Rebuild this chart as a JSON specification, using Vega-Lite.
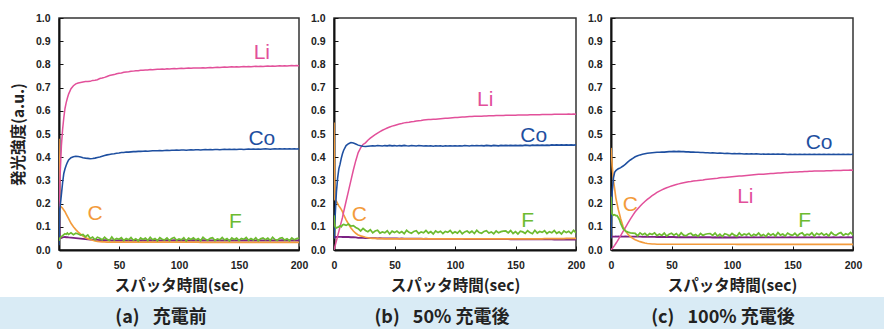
{
"$schema":"https://vega.github.io/schema/vega-lite/v6.json",
"padding":{"left":0,"top":12,"right":0,"bottom":0},
"background":"white",
"config":{
 "view":{"stroke":"#333","strokeWidth":1.5},
 "axis":{"labelFont":"Liberation Sans","labelFontSize":10.5,"labelFontWeight":"bold","labelColor":"#222","titleFont":"Noto Sans CJK JP","titleFontSize":15.5,"titleFontWeight":"bold","titleColor":"#222","grid":false,"domainColor":"#111","domainWidth":2,"tickColor":"#111","tickSize":-4,"labelFlush":false,"labelOverlap":false}
},
"datasets":{
"main":[
{"p":"a","t":0,"Li":0.12,"Co":0.02,"C":0.48,"F":0.04,"X":0.22},
{"p":"a","t":0.5,"Li":0.25,"Co":0.17,"C":0.2,"F":0.05,"X":0.06},
{"p":"a","t":1,"Li":0.33,"Co":0.19,"C":0.19,"F":0.052,"X":0.055},
{"p":"a","t":2,"Li":0.45,"Co":0.24,"C":0.185,"F":0.058,"X":0.052},
{"p":"a","t":3,"Li":0.52,"Co":0.29,"C":0.18,"F":0.062,"X":0.054},
{"p":"a","t":4,"Li":0.57,"Co":0.33,"C":0.172,"F":0.066,"X":0.055},
{"p":"a","t":5,"Li":0.61,"Co":0.35,"C":0.165,"F":0.07,"X":0.056},
{"p":"a","t":6,"Li":0.635,"Co":0.365,"C":0.155,"F":0.068,"X":0.055},
{"p":"a","t":7,"Li":0.655,"Co":0.378,"C":0.145,"F":0.073,"X":0.055},
{"p":"a","t":8,"Li":0.672,"Co":0.388,"C":0.135,"F":0.067,"X":0.054},
{"p":"a","t":10,"Li":0.695,"Co":0.398,"C":0.115,"F":0.074,"X":0.053},
{"p":"a","t":12,"Li":0.708,"Co":0.402,"C":0.1,"F":0.066,"X":0.052},
{"p":"a","t":14,"Li":0.716,"Co":0.404,"C":0.088,"F":0.072,"X":0.051},
{"p":"a","t":16,"Li":0.72,"Co":0.403,"C":0.077,"F":0.069,"X":0.05},
{"p":"a","t":18,"Li":0.722,"Co":0.401,"C":0.068,"F":0.064,"X":0.049},
{"p":"a","t":20,"Li":0.724,"Co":0.398,"C":0.06,"F":0.067,"X":0.048},
{"p":"a","t":22,"Li":0.726,"Co":0.396,"C":0.054,"F":0.057,"X":0.047},
{"p":"a","t":24,"Li":0.726,"Co":0.395,"C":0.049,"F":0.065,"X":0.046},
{"p":"a","t":26,"Li":0.727,"Co":0.393,"C":0.045,"F":0.05,"X":0.045},
{"p":"a","t":28,"Li":0.731,"Co":0.394,"C":0.042,"F":0.056,"X":0.045},
{"p":"a","t":30,"Li":0.732,"Co":0.396,"C":0.039,"F":0.044,"X":0.044},
{"p":"a","t":32,"Li":0.734,"Co":0.399,"C":0.037,"F":0.055,"X":0.044},
{"p":"a","t":34,"Li":0.739,"Co":0.401,"C":0.036,"F":0.051,"X":0.043},
{"p":"a","t":36,"Li":0.741,"Co":0.404,"C":0.035,"F":0.044,"X":0.043},
{"p":"a","t":38,"Li":0.744,"Co":0.407,"C":0.035,"F":0.055,"X":0.042},
{"p":"a","t":40,"Li":0.748,"Co":0.41,"C":0.034,"F":0.046,"X":0.042},
{"p":"a","t":42,"Li":0.752,"Co":0.412,"C":0.034,"F":0.041,"X":0.042},
{"p":"a","t":44,"Li":0.754,"Co":0.414,"C":0.034,"F":0.056,"X":0.041},
{"p":"a","t":46,"Li":0.756,"Co":0.415,"C":0.034,"F":0.043,"X":0.042},
{"p":"a","t":48,"Li":0.76,"Co":0.417,"C":0.034,"F":0.05,"X":0.041},
{"p":"a","t":50,"Li":0.762,"Co":0.418,"C":0.034,"F":0.046,"X":0.041},
{"p":"a","t":52,"Li":0.763,"Co":0.42,"C":0.034,"F":0.053,"X":0.042},
{"p":"a","t":54,"Li":0.766,"Co":0.42,"C":0.034,"F":0.041,"X":0.041},
{"p":"a","t":56,"Li":0.767,"Co":0.422,"C":0.034,"F":0.049,"X":0.041},
{"p":"a","t":58,"Li":0.768,"Co":0.422,"C":0.034,"F":0.044,"X":0.042},
{"p":"a","t":60,"Li":0.77,"Co":0.423,"C":0.034,"F":0.054,"X":0.041},
{"p":"a","t":62,"Li":0.771,"Co":0.424,"C":0.034,"F":0.042,"X":0.041},
{"p":"a","t":64,"Li":0.773,"Co":0.424,"C":0.034,"F":0.048,"X":0.042},
{"p":"a","t":66,"Li":0.773,"Co":0.425,"C":0.034,"F":0.039,"X":0.041},
{"p":"a","t":68,"Li":0.775,"Co":0.425,"C":0.034,"F":0.052,"X":0.041},
{"p":"a","t":70,"Li":0.775,"Co":0.426,"C":0.034,"F":0.045,"X":0.042},
{"p":"a","t":72,"Li":0.776,"Co":0.427,"C":0.034,"F":0.051,"X":0.041},
{"p":"a","t":74,"Li":0.776,"Co":0.426,"C":0.034,"F":0.041,"X":0.041},
{"p":"a","t":76,"Li":0.778,"Co":0.427,"C":0.034,"F":0.055,"X":0.042},
{"p":"a","t":78,"Li":0.777,"Co":0.428,"C":0.034,"F":0.044,"X":0.041},
{"p":"a","t":80,"Li":0.778,"Co":0.428,"C":0.034,"F":0.049,"X":0.041},
{"p":"a","t":82,"Li":0.779,"Co":0.428,"C":0.034,"F":0.04,"X":0.042},
{"p":"a","t":84,"Li":0.779,"Co":0.429,"C":0.034,"F":0.053,"X":0.041},
{"p":"a","t":86,"Li":0.78,"Co":0.428,"C":0.034,"F":0.046,"X":0.041},
{"p":"a","t":88,"Li":0.779,"Co":0.429,"C":0.034,"F":0.043,"X":0.041},
{"p":"a","t":90,"Li":0.781,"Co":0.43,"C":0.034,"F":0.052,"X":0.042},
{"p":"a","t":92,"Li":0.78,"Co":0.429,"C":0.034,"F":0.041,"X":0.041},
{"p":"a","t":94,"Li":0.781,"Co":0.43,"C":0.034,"F":0.05,"X":0.041},
{"p":"a","t":96,"Li":0.782,"Co":0.43,"C":0.034,"F":0.054,"X":0.042},
{"p":"a","t":98,"Li":0.781,"Co":0.431,"C":0.034,"F":0.042,"X":0.041},
{"p":"a","t":100,"Li":0.782,"Co":0.43,"C":0.034,"F":0.048,"X":0.041},
{"p":"a","t":102,"Li":0.783,"Co":0.431,"C":0.034,"F":0.044,"X":0.041},
{"p":"a","t":104,"Li":0.782,"Co":0.431,"C":0.034,"F":0.053,"X":0.042},
{"p":"a","t":106,"Li":0.783,"Co":0.43,"C":0.034,"F":0.039,"X":0.041},
{"p":"a","t":108,"Li":0.784,"Co":0.431,"C":0.034,"F":0.051,"X":0.041},
{"p":"a","t":110,"Li":0.783,"Co":0.432,"C":0.034,"F":0.045,"X":0.041},
{"p":"a","t":112,"Li":0.784,"Co":0.431,"C":0.034,"F":0.052,"X":0.042},
{"p":"a","t":114,"Li":0.785,"Co":0.432,"C":0.034,"F":0.043,"X":0.041},
{"p":"a","t":116,"Li":0.784,"Co":0.432,"C":0.034,"F":0.049,"X":0.041},
{"p":"a","t":118,"Li":0.785,"Co":0.431,"C":0.033,"F":0.04,"X":0.041},
{"p":"a","t":120,"Li":0.786,"Co":0.432,"C":0.033,"F":0.055,"X":0.042},
{"p":"a","t":122,"Li":0.785,"Co":0.433,"C":0.033,"F":0.046,"X":0.041},
{"p":"a","t":124,"Li":0.786,"Co":0.432,"C":0.033,"F":0.042,"X":0.041},
{"p":"a","t":126,"Li":0.787,"Co":0.433,"C":0.033,"F":0.05,"X":0.041},
{"p":"a","t":128,"Li":0.786,"Co":0.432,"C":0.033,"F":0.053,"X":0.041},
{"p":"a","t":130,"Li":0.787,"Co":0.433,"C":0.033,"F":0.041,"X":0.042},
{"p":"a","t":132,"Li":0.788,"Co":0.433,"C":0.033,"F":0.048,"X":0.041},
{"p":"a","t":134,"Li":0.787,"Co":0.432,"C":0.033,"F":0.044,"X":0.041},
{"p":"a","t":136,"Li":0.788,"Co":0.433,"C":0.033,"F":0.054,"X":0.041},
{"p":"a","t":138,"Li":0.789,"Co":0.434,"C":0.033,"F":0.043,"X":0.042},
{"p":"a","t":140,"Li":0.788,"Co":0.433,"C":0.033,"F":0.049,"X":0.041},
{"p":"a","t":142,"Li":0.789,"Co":0.434,"C":0.033,"F":0.039,"X":0.041},
{"p":"a","t":144,"Li":0.79,"Co":0.433,"C":0.033,"F":0.052,"X":0.041},
{"p":"a","t":146,"Li":0.789,"Co":0.434,"C":0.033,"F":0.045,"X":0.042},
{"p":"a","t":148,"Li":0.79,"Co":0.433,"C":0.033,"F":0.051,"X":0.041},
{"p":"a","t":150,"Li":0.789,"Co":0.434,"C":0.033,"F":0.041,"X":0.041},
{"p":"a","t":152,"Li":0.79,"Co":0.434,"C":0.033,"F":0.05,"X":0.041},
{"p":"a","t":154,"Li":0.791,"Co":0.433,"C":0.033,"F":0.046,"X":0.041},
{"p":"a","t":156,"Li":0.79,"Co":0.434,"C":0.033,"F":0.054,"X":0.042},
{"p":"a","t":158,"Li":0.791,"Co":0.435,"C":0.033,"F":0.042,"X":0.041},
{"p":"a","t":160,"Li":0.79,"Co":0.434,"C":0.033,"F":0.049,"X":0.041},
{"p":"a","t":162,"Li":0.791,"Co":0.435,"C":0.033,"F":0.043,"X":0.041},
{"p":"a","t":164,"Li":0.792,"Co":0.434,"C":0.033,"F":0.053,"X":0.041},
{"p":"a","t":166,"Li":0.791,"Co":0.435,"C":0.033,"F":0.04,"X":0.042},
{"p":"a","t":168,"Li":0.792,"Co":0.434,"C":0.033,"F":0.048,"X":0.041},
{"p":"a","t":170,"Li":0.791,"Co":0.435,"C":0.033,"F":0.052,"X":0.041},
{"p":"a","t":172,"Li":0.792,"Co":0.436,"C":0.033,"F":0.044,"X":0.041},
{"p":"a","t":174,"Li":0.793,"Co":0.435,"C":0.033,"F":0.051,"X":0.041},
{"p":"a","t":176,"Li":0.792,"Co":0.434,"C":0.033,"F":0.041,"X":0.042},
{"p":"a","t":178,"Li":0.793,"Co":0.435,"C":0.033,"F":0.055,"X":0.041},
{"p":"a","t":180,"Li":0.792,"Co":0.436,"C":0.033,"F":0.045,"X":0.041},
{"p":"a","t":182,"Li":0.793,"Co":0.435,"C":0.033,"F":0.042,"X":0.041},
{"p":"a","t":184,"Li":0.794,"Co":0.436,"C":0.033,"F":0.05,"X":0.041},
{"p":"a","t":186,"Li":0.793,"Co":0.435,"C":0.033,"F":0.053,"X":0.042},
{"p":"a","t":188,"Li":0.794,"Co":0.436,"C":0.033,"F":0.043,"X":0.041},
{"p":"a","t":190,"Li":0.793,"Co":0.435,"C":0.033,"F":0.048,"X":0.041},
{"p":"a","t":192,"Li":0.794,"Co":0.436,"C":0.033,"F":0.04,"X":0.041},
{"p":"a","t":194,"Li":0.795,"Co":0.435,"C":0.033,"F":0.052,"X":0.041},
{"p":"a","t":196,"Li":0.794,"Co":0.436,"C":0.033,"F":0.044,"X":0.042},
{"p":"a","t":198,"Li":0.795,"Co":0.435,"C":0.033,"F":0.049,"X":0.041},
{"p":"a","t":200,"Li":0.794,"Co":0.436,"C":0.033,"F":0.051,"X":0.041},
{"p":"b","t":0,"Li":0,"Co":0.05,"C":0.55,"F":0.15,"X":0.05},
{"p":"b","t":0.5,"Li":0.01,"Co":0.1,"C":0.22,"F":0.11,"X":0.055},
{"p":"b","t":1,"Li":0.02,"Co":0.15,"C":0.215,"F":0.1,"X":0.056},
{"p":"b","t":2,"Li":0.04,"Co":0.25,"C":0.21,"F":0.095,"X":0.056},
{"p":"b","t":3,"Li":0.06,"Co":0.31,"C":0.2,"F":0.098,"X":0.057},
{"p":"b","t":4,"Li":0.08,"Co":0.35,"C":0.19,"F":0.1,"X":0.057},
{"p":"b","t":5,"Li":0.1,"Co":0.37,"C":0.183,"F":0.104,"X":0.057},
{"p":"b","t":6,"Li":0.12,"Co":0.395,"C":0.175,"F":0.1,"X":0.057},
{"p":"b","t":7,"Li":0.14,"Co":0.415,"C":0.165,"F":0.108,"X":0.056},
{"p":"b","t":8,"Li":0.165,"Co":0.43,"C":0.152,"F":0.11,"X":0.056},
{"p":"b","t":10,"Li":0.21,"Co":0.45,"C":0.13,"F":0.106,"X":0.056},
{"p":"b","t":12,"Li":0.255,"Co":0.458,"C":0.112,"F":0.112,"X":0.056},
{"p":"b","t":14,"Li":0.3,"Co":0.463,"C":0.095,"F":0.103,"X":0.055},
{"p":"b","t":16,"Li":0.345,"Co":0.461,"C":0.082,"F":0.105,"X":0.055},
{"p":"b","t":18,"Li":0.385,"Co":0.457,"C":0.072,"F":0.097,"X":0.054},
{"p":"b","t":20,"Li":0.42,"Co":0.452,"C":0.065,"F":0.092,"X":0.052},
{"p":"b","t":22,"Li":0.44,"Co":0.449,"C":0.061,"F":0.082,"X":0.052},
{"p":"b","t":24,"Li":0.455,"Co":0.447,"C":0.058,"F":0.093,"X":0.052},
{"p":"b","t":26,"Li":0.462,"Co":0.446,"C":0.055,"F":0.084,"X":0.051},
{"p":"b","t":28,"Li":0.473,"Co":0.447,"C":0.053,"F":0.079,"X":0.051},
{"p":"b","t":30,"Li":0.482,"Co":0.448,"C":0.051,"F":0.087,"X":0.051},
{"p":"b","t":32,"Li":0.49,"Co":0.449,"C":0.05,"F":0.074,"X":0.051},
{"p":"b","t":34,"Li":0.497,"Co":0.448,"C":0.05,"F":0.082,"X":0.051},
{"p":"b","t":36,"Li":0.504,"Co":0.45,"C":0.049,"F":0.085,"X":0.05},
{"p":"b","t":38,"Li":0.51,"Co":0.449,"C":0.049,"F":0.073,"X":0.051},
{"p":"b","t":40,"Li":0.516,"Co":0.448,"C":0.049,"F":0.078,"X":0.05},
{"p":"b","t":42,"Li":0.521,"Co":0.45,"C":0.048,"F":0.074,"X":0.05},
{"p":"b","t":44,"Li":0.526,"Co":0.449,"C":0.048,"F":0.083,"X":0.05},
{"p":"b","t":46,"Li":0.53,"Co":0.451,"C":0.048,"F":0.069,"X":0.05},
{"p":"b","t":48,"Li":0.534,"Co":0.449,"C":0.048,"F":0.081,"X":0.05},
{"p":"b","t":50,"Li":0.537,"Co":0.45,"C":0.048,"F":0.075,"X":0.05},
{"p":"b","t":52,"Li":0.54,"Co":0.448,"C":0.048,"F":0.082,"X":0.05},
{"p":"b","t":54,"Li":0.543,"Co":0.45,"C":0.048,"F":0.073,"X":0.049},
{"p":"b","t":56,"Li":0.545,"Co":0.449,"C":0.048,"F":0.079,"X":0.05},
{"p":"b","t":58,"Li":0.548,"Co":0.451,"C":0.048,"F":0.07,"X":0.049},
{"p":"b","t":60,"Li":0.55,"Co":0.449,"C":0.048,"F":0.085,"X":0.049},
{"p":"b","t":62,"Li":0.551,"Co":0.448,"C":0.048,"F":0.076,"X":0.049},
{"p":"b","t":64,"Li":0.553,"Co":0.45,"C":0.048,"F":0.072,"X":0.049},
{"p":"b","t":66,"Li":0.554,"Co":0.449,"C":0.048,"F":0.08,"X":0.049},
{"p":"b","t":68,"Li":0.556,"Co":0.448,"C":0.048,"F":0.083,"X":0.049},
{"p":"b","t":70,"Li":0.557,"Co":0.45,"C":0.048,"F":0.071,"X":0.049},
{"p":"b","t":72,"Li":0.558,"Co":0.449,"C":0.048,"F":0.078,"X":0.049},
{"p":"b","t":74,"Li":0.56,"Co":0.448,"C":0.048,"F":0.074,"X":0.048},
{"p":"b","t":76,"Li":0.561,"Co":0.449,"C":0.048,"F":0.084,"X":0.049},
{"p":"b","t":78,"Li":0.562,"Co":0.448,"C":0.048,"F":0.073,"X":0.048},
{"p":"b","t":80,"Li":0.563,"Co":0.449,"C":0.048,"F":0.079,"X":0.048},
{"p":"b","t":82,"Li":0.564,"Co":0.447,"C":0.048,"F":0.069,"X":0.048},
{"p":"b","t":84,"Li":0.564,"Co":0.449,"C":0.048,"F":0.082,"X":0.048},
{"p":"b","t":86,"Li":0.565,"Co":0.448,"C":0.048,"F":0.075,"X":0.048},
{"p":"b","t":88,"Li":0.566,"Co":0.449,"C":0.048,"F":0.081,"X":0.048},
{"p":"b","t":90,"Li":0.567,"Co":0.447,"C":0.048,"F":0.071,"X":0.048},
{"p":"b","t":92,"Li":0.568,"Co":0.449,"C":0.048,"F":0.08,"X":0.048},
{"p":"b","t":94,"Li":0.568,"Co":0.448,"C":0.048,"F":0.076,"X":0.048},
{"p":"b","t":96,"Li":0.569,"Co":0.449,"C":0.048,"F":0.084,"X":0.048},
{"p":"b","t":98,"Li":0.57,"Co":0.448,"C":0.048,"F":0.072,"X":0.048},
{"p":"b","t":100,"Li":0.571,"Co":0.449,"C":0.048,"F":0.079,"X":0.048},
{"p":"b","t":102,"Li":0.571,"Co":0.448,"C":0.048,"F":0.073,"X":0.048},
{"p":"b","t":104,"Li":0.572,"Co":0.449,"C":0.048,"F":0.083,"X":0.048},
{"p":"b","t":106,"Li":0.573,"Co":0.448,"C":0.048,"F":0.07,"X":0.048},
{"p":"b","t":108,"Li":0.573,"Co":0.45,"C":0.048,"F":0.078,"X":0.047},
{"p":"b","t":110,"Li":0.574,"Co":0.449,"C":0.048,"F":0.082,"X":0.048},
{"p":"b","t":112,"Li":0.575,"Co":0.448,"C":0.048,"F":0.074,"X":0.047},
{"p":"b","t":114,"Li":0.575,"Co":0.45,"C":0.048,"F":0.081,"X":0.048},
{"p":"b","t":116,"Li":0.576,"Co":0.449,"C":0.048,"F":0.071,"X":0.047},
{"p":"b","t":118,"Li":0.576,"Co":0.45,"C":0.048,"F":0.085,"X":0.047},
{"p":"b","t":120,"Li":0.577,"Co":0.449,"C":0.048,"F":0.075,"X":0.047},
{"p":"b","t":122,"Li":0.577,"Co":0.45,"C":0.048,"F":0.072,"X":0.047},
{"p":"b","t":124,"Li":0.578,"Co":0.449,"C":0.048,"F":0.08,"X":0.047},
{"p":"b","t":126,"Li":0.578,"Co":0.451,"C":0.048,"F":0.083,"X":0.047},
{"p":"b","t":128,"Li":0.579,"Co":0.45,"C":0.048,"F":0.073,"X":0.047},
{"p":"b","t":130,"Li":0.579,"Co":0.449,"C":0.048,"F":0.078,"X":0.047},
{"p":"b","t":132,"Li":0.579,"Co":0.451,"C":0.048,"F":0.07,"X":0.047},
{"p":"b","t":134,"Li":0.58,"Co":0.45,"C":0.048,"F":0.082,"X":0.047},
{"p":"b","t":136,"Li":0.58,"Co":0.449,"C":0.048,"F":0.074,"X":0.047},
{"p":"b","t":138,"Li":0.58,"Co":0.451,"C":0.048,"F":0.079,"X":0.047},
{"p":"b","t":140,"Li":0.58,"Co":0.45,"C":0.048,"F":0.081,"X":0.047},
{"p":"b","t":142,"Li":0.581,"Co":0.451,"C":0.048,"F":0.082,"X":0.047},
{"p":"b","t":144,"Li":0.581,"Co":0.45,"C":0.048,"F":0.074,"X":0.047},
{"p":"b","t":146,"Li":0.581,"Co":0.451,"C":0.048,"F":0.084,"X":0.046},
{"p":"b","t":148,"Li":0.581,"Co":0.45,"C":0.048,"F":0.071,"X":0.047},
{"p":"b","t":150,"Li":0.581,"Co":0.451,"C":0.048,"F":0.079,"X":0.046},
{"p":"b","t":152,"Li":0.582,"Co":0.45,"C":0.048,"F":0.069,"X":0.047},
{"p":"b","t":154,"Li":0.582,"Co":0.451,"C":0.048,"F":0.081,"X":0.046},
{"p":"b","t":156,"Li":0.582,"Co":0.45,"C":0.048,"F":0.078,"X":0.046},
{"p":"b","t":158,"Li":0.582,"Co":0.452,"C":0.048,"F":0.072,"X":0.047},
{"p":"b","t":160,"Li":0.582,"Co":0.451,"C":0.048,"F":0.083,"X":0.046},
{"p":"b","t":162,"Li":0.583,"Co":0.45,"C":0.048,"F":0.075,"X":0.046},
{"p":"b","t":164,"Li":0.583,"Co":0.452,"C":0.048,"F":0.07,"X":0.046},
{"p":"b","t":166,"Li":0.583,"Co":0.451,"C":0.048,"F":0.085,"X":0.046},
{"p":"b","t":168,"Li":0.583,"Co":0.452,"C":0.048,"F":0.073,"X":0.046},
{"p":"b","t":170,"Li":0.583,"Co":0.451,"C":0.048,"F":0.08,"X":0.046},
{"p":"b","t":172,"Li":0.584,"Co":0.452,"C":0.048,"F":0.076,"X":0.046},
{"p":"b","t":174,"Li":0.584,"Co":0.451,"C":0.049,"F":0.083,"X":0.046},
{"p":"b","t":176,"Li":0.584,"Co":0.452,"C":0.049,"F":0.071,"X":0.046},
{"p":"b","t":178,"Li":0.584,"Co":0.451,"C":0.049,"F":0.079,"X":0.046},
{"p":"b","t":180,"Li":0.584,"Co":0.453,"C":0.049,"F":0.074,"X":0.046},
{"p":"b","t":182,"Li":0.585,"Co":0.452,"C":0.049,"F":0.084,"X":0.045},
{"p":"b","t":184,"Li":0.585,"Co":0.453,"C":0.049,"F":0.072,"X":0.046},
{"p":"b","t":186,"Li":0.585,"Co":0.452,"C":0.049,"F":0.078,"X":0.045},
{"p":"b","t":188,"Li":0.585,"Co":0.453,"C":0.049,"F":0.069,"X":0.045},
{"p":"b","t":190,"Li":0.585,"Co":0.452,"C":0.049,"F":0.082,"X":0.045},
{"p":"b","t":192,"Li":0.585,"Co":0.453,"C":0.05,"F":0.075,"X":0.045},
{"p":"b","t":194,"Li":0.586,"Co":0.452,"C":0.05,"F":0.081,"X":0.045},
{"p":"b","t":196,"Li":0.585,"Co":0.453,"C":0.05,"F":0.071,"X":0.045},
{"p":"b","t":198,"Li":0.586,"Co":0.452,"C":0.05,"F":0.085,"X":0.045},
{"p":"b","t":200,"Li":0.585,"Co":0.453,"C":0.05,"F":0.074,"X":0.045},
{"p":"c","t":0,"Li":0,"Co":0.05,"C":0.44,"F":0.23,"X":0.055},
{"p":"c","t":0.5,"Li":0.003,"Co":0.18,"C":0.4,"F":0.17,"X":0.057},
{"p":"c","t":1,"Li":0.006,"Co":0.25,"C":0.36,"F":0.155,"X":0.058},
{"p":"c","t":2,"Li":0.013,"Co":0.31,"C":0.3,"F":0.15,"X":0.058},
{"p":"c","t":3,"Li":0.02,"Co":0.335,"C":0.265,"F":0.152,"X":0.058},
{"p":"c","t":4,"Li":0.028,"Co":0.342,"C":0.225,"F":0.148,"X":0.059},
{"p":"c","t":5,"Li":0.036,"Co":0.346,"C":0.2,"F":0.148,"X":0.058},
{"p":"c","t":6,"Li":0.045,"Co":0.35,"C":0.175,"F":0.14,"X":0.059},
{"p":"c","t":7,"Li":0.053,"Co":0.352,"C":0.155,"F":0.13,"X":0.058},
{"p":"c","t":8,"Li":0.062,"Co":0.355,"C":0.135,"F":0.115,"X":0.059},
{"p":"c","t":10,"Li":0.08,"Co":0.362,"C":0.1,"F":0.092,"X":0.058},
{"p":"c","t":12,"Li":0.098,"Co":0.37,"C":0.082,"F":0.082,"X":0.059},
{"p":"c","t":14,"Li":0.116,"Co":0.38,"C":0.068,"F":0.077,"X":0.058},
{"p":"c","t":16,"Li":0.133,"Co":0.388,"C":0.058,"F":0.074,"X":0.058},
{"p":"c","t":18,"Li":0.149,"Co":0.395,"C":0.05,"F":0.073,"X":0.058},
{"p":"c","t":20,"Li":0.165,"Co":0.402,"C":0.044,"F":0.072,"X":0.058},
{"p":"c","t":22,"Li":0.177,"Co":0.406,"C":0.04,"F":0.061,"X":0.058},
{"p":"c","t":24,"Li":0.189,"Co":0.41,"C":0.036,"F":0.074,"X":0.058},
{"p":"c","t":26,"Li":0.199,"Co":0.413,"C":0.033,"F":0.066,"X":0.057},
{"p":"c","t":28,"Li":0.209,"Co":0.415,"C":0.03,"F":0.072,"X":0.058},
{"p":"c","t":30,"Li":0.218,"Co":0.417,"C":0.028,"F":0.062,"X":0.057},
{"p":"c","t":32,"Li":0.226,"Co":0.418,"C":0.027,"F":0.071,"X":0.057},
{"p":"c","t":34,"Li":0.234,"Co":0.419,"C":0.026,"F":0.067,"X":0.057},
{"p":"c","t":36,"Li":0.241,"Co":0.42,"C":0.026,"F":0.074,"X":0.057},
{"p":"c","t":38,"Li":0.248,"Co":0.421,"C":0.025,"F":0.062,"X":0.056},
{"p":"c","t":40,"Li":0.254,"Co":0.421,"C":0.025,"F":0.069,"X":0.056},
{"p":"c","t":42,"Li":0.259,"Co":0.422,"C":0.025,"F":0.063,"X":0.056},
{"p":"c","t":44,"Li":0.264,"Co":0.422,"C":0.025,"F":0.073,"X":0.056},
{"p":"c","t":46,"Li":0.268,"Co":0.423,"C":0.025,"F":0.06,"X":0.056},
{"p":"c","t":48,"Li":0.272,"Co":0.424,"C":0.025,"F":0.068,"X":0.056},
{"p":"c","t":50,"Li":0.276,"Co":0.424,"C":0.025,"F":0.072,"X":0.056},
{"p":"c","t":52,"Li":0.279,"Co":0.425,"C":0.025,"F":0.064,"X":0.056},
{"p":"c","t":54,"Li":0.282,"Co":0.424,"C":0.025,"F":0.071,"X":0.055},
{"p":"c","t":56,"Li":0.285,"Co":0.425,"C":0.025,"F":0.06,"X":0.056},
{"p":"c","t":58,"Li":0.288,"Co":0.424,"C":0.025,"F":0.074,"X":0.055},
{"p":"c","t":60,"Li":0.29,"Co":0.424,"C":0.025,"F":0.064,"X":0.055},
{"p":"c","t":62,"Li":0.292,"Co":0.423,"C":0.025,"F":0.061,"X":0.055},
{"p":"c","t":64,"Li":0.294,"Co":0.423,"C":0.025,"F":0.069,"X":0.055},
{"p":"c","t":66,"Li":0.295,"Co":0.422,"C":0.025,"F":0.072,"X":0.055},
{"p":"c","t":68,"Li":0.297,"Co":0.422,"C":0.025,"F":0.062,"X":0.055},
{"p":"c","t":70,"Li":0.298,"Co":0.421,"C":0.025,"F":0.067,"X":0.055},
{"p":"c","t":72,"Li":0.3,"Co":0.421,"C":0.025,"F":0.059,"X":0.055},
{"p":"c","t":74,"Li":0.301,"Co":0.42,"C":0.025,"F":0.071,"X":0.055},
{"p":"c","t":76,"Li":0.302,"Co":0.42,"C":0.025,"F":0.063,"X":0.055},
{"p":"c","t":78,"Li":0.304,"Co":0.419,"C":0.025,"F":0.068,"X":0.055},
{"p":"c","t":80,"Li":0.305,"Co":0.419,"C":0.025,"F":0.07,"X":0.055},
{"p":"c","t":82,"Li":0.306,"Co":0.418,"C":0.025,"F":0.071,"X":0.055},
{"p":"c","t":84,"Li":0.307,"Co":0.419,"C":0.025,"F":0.063,"X":0.054},
{"p":"c","t":86,"Li":0.308,"Co":0.418,"C":0.025,"F":0.073,"X":0.055},
{"p":"c","t":88,"Li":0.309,"Co":0.417,"C":0.025,"F":0.06,"X":0.054},
{"p":"c","t":90,"Li":0.311,"Co":0.418,"C":0.025,"F":0.068,"X":0.055},
{"p":"c","t":92,"Li":0.312,"Co":0.417,"C":0.025,"F":0.058,"X":0.054},
{"p":"c","t":94,"Li":0.313,"Co":0.416,"C":0.025,"F":0.07,"X":0.055},
{"p":"c","t":96,"Li":0.314,"Co":0.417,"C":0.025,"F":0.067,"X":0.054},
{"p":"c","t":98,"Li":0.315,"Co":0.416,"C":0.025,"F":0.061,"X":0.055},
{"p":"c","t":100,"Li":0.316,"Co":0.415,"C":0.025,"F":0.072,"X":0.054},
{"p":"c","t":102,"Li":0.317,"Co":0.416,"C":0.025,"F":0.064,"X":0.055},
{"p":"c","t":104,"Li":0.318,"Co":0.415,"C":0.024,"F":0.059,"X":0.054},
{"p":"c","t":106,"Li":0.319,"Co":0.416,"C":0.024,"F":0.074,"X":0.055},
{"p":"c","t":108,"Li":0.319,"Co":0.415,"C":0.024,"F":0.062,"X":0.054},
{"p":"c","t":110,"Li":0.32,"Co":0.414,"C":0.024,"F":0.069,"X":0.054},
{"p":"c","t":112,"Li":0.321,"Co":0.415,"C":0.024,"F":0.065,"X":0.055},
{"p":"c","t":114,"Li":0.322,"Co":0.414,"C":0.024,"F":0.072,"X":0.054},
{"p":"c","t":116,"Li":0.323,"Co":0.415,"C":0.024,"F":0.06,"X":0.054},
{"p":"c","t":118,"Li":0.324,"Co":0.414,"C":0.024,"F":0.068,"X":0.055},
{"p":"c","t":120,"Li":0.325,"Co":0.415,"C":0.024,"F":0.063,"X":0.054},
{"p":"c","t":122,"Li":0.326,"Co":0.414,"C":0.024,"F":0.073,"X":0.054},
{"p":"c","t":124,"Li":0.327,"Co":0.413,"C":0.024,"F":0.061,"X":0.055},
{"p":"c","t":126,"Li":0.327,"Co":0.414,"C":0.024,"F":0.067,"X":0.054},
{"p":"c","t":128,"Li":0.328,"Co":0.413,"C":0.024,"F":0.058,"X":0.054},
{"p":"c","t":130,"Li":0.329,"Co":0.414,"C":0.024,"F":0.071,"X":0.055},
{"p":"c","t":132,"Li":0.33,"Co":0.413,"C":0.024,"F":0.064,"X":0.054},
{"p":"c","t":134,"Li":0.33,"Co":0.414,"C":0.024,"F":0.07,"X":0.054},
{"p":"c","t":136,"Li":0.331,"Co":0.413,"C":0.024,"F":0.06,"X":0.055},
{"p":"c","t":138,"Li":0.332,"Co":0.414,"C":0.024,"F":0.075,"X":0.054},
{"p":"c","t":140,"Li":0.332,"Co":0.413,"C":0.024,"F":0.064,"X":0.054},
{"p":"c","t":142,"Li":0.333,"Co":0.414,"C":0.024,"F":0.069,"X":0.055},
{"p":"c","t":144,"Li":0.334,"Co":0.413,"C":0.024,"F":0.06,"X":0.054},
{"p":"c","t":146,"Li":0.334,"Co":0.412,"C":0.024,"F":0.073,"X":0.054},
{"p":"c","t":148,"Li":0.335,"Co":0.413,"C":0.024,"F":0.066,"X":0.055},
{"p":"c","t":150,"Li":0.335,"Co":0.412,"C":0.024,"F":0.063,"X":0.054},
{"p":"c","t":152,"Li":0.336,"Co":0.413,"C":0.024,"F":0.072,"X":0.054},
{"p":"c","t":154,"Li":0.336,"Co":0.412,"C":0.024,"F":0.061,"X":0.055},
{"p":"c","t":156,"Li":0.337,"Co":0.413,"C":0.024,"F":0.07,"X":0.054},
{"p":"c","t":158,"Li":0.337,"Co":0.412,"C":0.024,"F":0.074,"X":0.054},
{"p":"c","t":160,"Li":0.338,"Co":0.413,"C":0.024,"F":0.062,"X":0.055},
{"p":"c","t":162,"Li":0.338,"Co":0.412,"C":0.024,"F":0.068,"X":0.054},
{"p":"c","t":164,"Li":0.339,"Co":0.413,"C":0.024,"F":0.065,"X":0.054},
{"p":"c","t":166,"Li":0.339,"Co":0.412,"C":0.024,"F":0.074,"X":0.055},
{"p":"c","t":168,"Li":0.34,"Co":0.413,"C":0.024,"F":0.06,"X":0.054},
{"p":"c","t":170,"Li":0.34,"Co":0.412,"C":0.024,"F":0.072,"X":0.054},
{"p":"c","t":172,"Li":0.341,"Co":0.413,"C":0.024,"F":0.066,"X":0.055},
{"p":"c","t":174,"Li":0.341,"Co":0.412,"C":0.024,"F":0.073,"X":0.054},
{"p":"c","t":176,"Li":0.341,"Co":0.413,"C":0.024,"F":0.064,"X":0.054},
{"p":"c","t":178,"Li":0.342,"Co":0.412,"C":0.024,"F":0.07,"X":0.055},
{"p":"c","t":180,"Li":0.342,"Co":0.413,"C":0.024,"F":0.061,"X":0.054},
{"p":"c","t":182,"Li":0.342,"Co":0.412,"C":0.024,"F":0.076,"X":0.054},
{"p":"c","t":184,"Li":0.343,"Co":0.413,"C":0.024,"F":0.067,"X":0.055},
{"p":"c","t":186,"Li":0.343,"Co":0.412,"C":0.024,"F":0.063,"X":0.054},
{"p":"c","t":188,"Li":0.343,"Co":0.413,"C":0.024,"F":0.071,"X":0.054},
{"p":"c","t":190,"Li":0.343,"Co":0.412,"C":0.024,"F":0.075,"X":0.055},
{"p":"c","t":192,"Li":0.344,"Co":0.413,"C":0.024,"F":0.063,"X":0.054},
{"p":"c","t":194,"Li":0.344,"Co":0.412,"C":0.024,"F":0.07,"X":0.054},
{"p":"c","t":196,"Li":0.344,"Co":0.413,"C":0.024,"F":0.066,"X":0.055},
{"p":"c","t":198,"Li":0.345,"Co":0.412,"C":0.024,"F":0.076,"X":0.054},
{"p":"c","t":200,"Li":0.344,"Co":0.413,"C":0.024,"F":0.065,"X":0.054}
],
"labels":[
{"p":"a","s":"Li","t":169,"v":0.85},
{"p":"a","s":"Co","t":169,"v":0.48},
{"p":"a","s":"C","t":30,"v":0.155},
{"p":"a","s":"F","t":147,"v":0.12},
{"p":"b","s":"Li","t":125,"v":0.645},
{"p":"b","s":"Co","t":165,"v":0.49},
{"p":"b","s":"C","t":21,"v":0.15},
{"p":"b","s":"F","t":160,"v":0.125},
{"p":"c","s":"Co","t":172,"v":0.46},
{"p":"c","s":"Li","t":111,"v":0.23},
{"p":"c","s":"C","t":16,"v":0.195},
{"p":"c","s":"F","t":160,"v":0.125}
],
"captions":[
{"cap":"(a)\u2002\u00a0充電前"},
{"cap":"(b)\u2002\u00a050% 充電後"},
{"cap":"(c)\u2002\u00a0100% 充電後"}
]
},
"data":{"name":"main"},
"columns":1,
"align":"none",
"spacing":2,
"concat":[
{"hconcat":[
 {"width":24,"height":232,"view":{"stroke":null},
  "data":{"values":[{"k":1}]},
  "mark":{"type":"point","opacity":0},
  "encoding":{}},
 {"width":240,"height":232,
  "encoding":{
   "x":{"field":"t","type":"quantitative","scale":{"domain":[0,200],"nice":false},"axis":{"values":[0,50,100,150,200],"labelPadding":14,"titlePadding":8,"labelOverlap":false,"title":"スパッタ時間(sec)"}},
   "y":{"field":"v","type":"quantitative","scale":{"domain":[0,1],"nice":false},"axis":{"values":[0,0.1,0.2,0.3,0.4,0.5,0.6,0.7,0.8,0.9,1],"format":".1f","labelPadding":13,"labelOverlap":false,"titlePadding":9,"title":"発光強度(a.u.)"}},
   "color":{"field":"s","type":"nominal","scale":{"domain":["Li","Co","C","F","X"],"range":["#e2509a","#1e4fa0","#f39b3c","#6dbb30","#7b2183"]},"legend":null}
  },
  "layer":[
   {"transform":[{"filter":"datum.p === 'a'"},{"fold":["X","C","Li","Co","F"],"as":["s","v"]}],
    "mark":{"type":"line","clip":true},
    "encoding":{"strokeWidth":{"field":"s","type":"nominal","scale":{"domain":["Li","Co","C","F","X"],"range":[1.5,1.8,1.5,2.2,1.5]},"legend":null}}},
   {"data":{"name":"labels"},"transform":[{"filter":"datum.p === 'a'"}],
    "mark":{"type":"text","font":"Liberation Sans","fontSize":21,"align":"center","baseline":"middle"},
    "encoding":{"text":{"field":"s"}}}
  ]},
 {"width":242,"height":232,
  "encoding":{
   "x":{"field":"t","type":"quantitative","scale":{"domain":[0,200],"nice":false},"axis":{"values":[0,50,100,150,200],"labelPadding":14,"titlePadding":8,"labelOverlap":false,"title":"スパッタ時間(sec)"}},
   "y":{"field":"v","type":"quantitative","scale":{"domain":[0,1],"nice":false},"axis":{"values":[0,0.1,0.2,0.3,0.4,0.5,0.6,0.7,0.8,0.9,1],"format":".1f","labelPadding":13,"labelOverlap":false,"title":null}},
   "color":{"field":"s","type":"nominal","scale":{"domain":["Li","Co","C","F","X"],"range":["#e2509a","#1e4fa0","#f39b3c","#6dbb30","#7b2183"]},"legend":null}
  },
  "layer":[
   {"transform":[{"filter":"datum.p === 'b'"},{"fold":["X","C","Li","Co","F"],"as":["s","v"]}],
    "mark":{"type":"line","clip":true},
    "encoding":{"strokeWidth":{"field":"s","type":"nominal","scale":{"domain":["Li","Co","C","F","X"],"range":[1.5,1.8,1.5,2.2,1.5]},"legend":null}}},
   {"data":{"name":"labels"},"transform":[{"filter":"datum.p === 'b'"}],
    "mark":{"type":"text","font":"Liberation Sans","fontSize":21,"align":"center","baseline":"middle"},
    "encoding":{"text":{"field":"s"}}}
  ]},
 {"width":242,"height":232,
  "encoding":{
   "x":{"field":"t","type":"quantitative","scale":{"domain":[0,200],"nice":false},"axis":{"values":[0,50,100,150,200],"labelPadding":14,"titlePadding":8,"labelOverlap":false,"title":"スパッタ時間(sec)"}},
   "y":{"field":"v","type":"quantitative","scale":{"domain":[0,1],"nice":false},"axis":{"values":[0,0.1,0.2,0.3,0.4,0.5,0.6,0.7,0.8,0.9,1],"format":".1f","labelPadding":13,"labelOverlap":false,"title":null}},
   "color":{"field":"s","type":"nominal","scale":{"domain":["Li","Co","C","F","X"],"range":["#e2509a","#1e4fa0","#f39b3c","#6dbb30","#7b2183"]},"legend":null}
  },
  "layer":[
   {"transform":[{"filter":"datum.p === 'c'"},{"fold":["X","C","Li","Co","F"],"as":["s","v"]}],
    "mark":{"type":"line","clip":true},
    "encoding":{"strokeWidth":{"field":"s","type":"nominal","scale":{"domain":["Li","Co","C","F","X"],"range":[1.5,1.8,1.5,2.2,1.5]},"legend":null}}},
   {"data":{"name":"labels"},"transform":[{"filter":"datum.p === 'c'"}],
    "mark":{"type":"text","font":"Liberation Sans","fontSize":21,"align":"center","baseline":"middle"},
    "encoding":{"text":{"field":"s"}}}
  ]}
 ],
 "bounds":"flush","spacing":35},
{"width":884,"height":34,"view":{"fill":"#d9ebf5","stroke":null},
 "data":{"name":"captions"},
 "mark":{"type":"text","font":"Noto Sans CJK JP","fontSize":18,"fontWeight":"bold","color":"#222","dy":4},
 "encoding":{"x":{"field":"cap","type":"nominal","sort":null,"scale":{"type":"point","padding":0.573},"axis":null},"text":{"field":"cap"}}}
]
}
